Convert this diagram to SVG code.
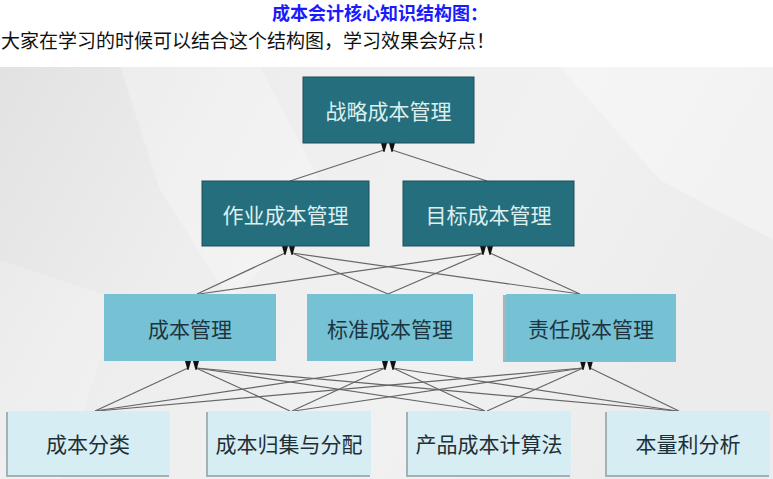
<svg xmlns="http://www.w3.org/2000/svg" width="773" height="479" viewBox="0 0 773 479">
  <defs>
    <linearGradient id="paper" x1="0" y1="0" x2="1" y2="0.3">
      <stop offset="0" stop-color="#e2e2e2"/>
      <stop offset="0.35" stop-color="#eeeeee"/>
      <stop offset="0.7" stop-color="#f1f1f1"/>
      <stop offset="1" stop-color="#ececec"/>
    </linearGradient>
    <polygon id="tri" points="-3,0 3,0 0.5,9 -0.5,9"/>
    <style>
      .hdr { font-family: "Noto Sans CJK SC", "Liberation Sans", sans-serif; }
      .title { font-size: 18px; font-weight: bold; fill: #1a1aff; }
      .sub { font-size: 19px; fill: #111111; }
      .lbl { font-family: "Noto Sans CJK SC", "Liberation Sans", sans-serif; font-size: 21px; text-anchor: middle; dominant-baseline: central; }
      .dark rect { fill: #256e7e; stroke: #1b4e59; stroke-width: 1; }
      .dark text { fill: #dcefef; }
      .mid rect { fill: #77c1d4; }
      .mid text { fill: #1c3540; }
      .light rect.face { fill: #d6edf3; }
      .light rect.shadow { fill: #a4b0b3; }
      .light text { fill: #1e2f36; }
      #connectors line { stroke: #666666; stroke-width: 1.2; }
      #connectors use { fill: #111111; }
    </style>
  </defs>

  <!-- header text -->
  <text class="hdr title" x="272" y="20">成本会计核心知识结构图：</text>
  <text class="hdr sub" x="1" y="48">大家在学习的时候可以结合这个结构图，学习效果会好点！</text>

  <!-- paper background -->
  <rect x="0" y="67" width="773" height="412" fill="url(#paper)"/>
  <polygon points="120,67 260,67 330,200 230,300 160,190" fill="#ffffff" opacity="0.25"/>
  <polygon points="560,67 773,67 773,240 660,180" fill="#ffffff" opacity="0.3"/>
  <polygon points="0,260 120,300 60,479 0,479" fill="#ffffff" opacity="0.2"/>

  <!-- connectors -->
  <g id="connectors">
    <!-- level 1 -> top -->
    <line x1="290" y1="181" x2="384" y2="150"/>
    <line x1="487" y1="181" x2="392" y2="150"/>
    <!-- level 2 -> level 1 -->
    <line x1="197" y1="294" x2="285" y2="253"/>
    <line x1="199" y1="294" x2="483" y2="253"/>
    <line x1="388" y1="294" x2="292" y2="253"/>
    <line x1="388" y1="294" x2="483" y2="253"/>
    <line x1="580" y1="294" x2="292" y2="253"/>
    <line x1="580" y1="294" x2="490" y2="253"/>
    <!-- level 3 -> level 2 -->
    <line x1="95" y1="411" x2="188" y2="368"/>
    <line x1="95" y1="411" x2="385" y2="368"/>
    <line x1="97" y1="411" x2="583" y2="368"/>
    <line x1="290" y1="411" x2="196" y2="368"/>
    <line x1="292" y1="411" x2="385" y2="368"/>
    <line x1="294" y1="411" x2="583" y2="368"/>
    <line x1="485" y1="411" x2="196" y2="368"/>
    <line x1="485" y1="411" x2="393" y2="368"/>
    <line x1="487" y1="411" x2="583" y2="368"/>
    <line x1="677" y1="411" x2="196" y2="368"/>
    <line x1="677" y1="411" x2="393" y2="368"/>
    <line x1="679" y1="411" x2="590" y2="368"/>
    <!-- arrowheads -->
    <use href="#tri" x="384" y="143"/>
    <use href="#tri" x="392" y="143"/>
    <use href="#tri" x="285" y="246"/>
    <use href="#tri" x="292" y="246"/>
    <use href="#tri" x="483" y="246"/>
    <use href="#tri" x="490" y="246"/>
    <use href="#tri" x="188" y="361"/>
    <use href="#tri" x="196" y="361"/>
    <use href="#tri" x="385" y="361"/>
    <use href="#tri" x="393" y="361"/>
    <use href="#tri" x="583" y="361"/>
    <use href="#tri" x="590" y="361"/>
  </g>

  <!-- top level -->
  <g id="n-strategic" class="dark">
    <rect x="303" y="77" width="171" height="66"/>
    <text class="lbl" x="388.5" y="110">战略成本管理</text>
  </g>

  <!-- level 1 -->
  <g id="n-activity" class="dark">
    <rect x="202" y="181" width="167" height="65"/>
    <text class="lbl" x="285.5" y="213.5">作业成本管理</text>
  </g>
  <g id="n-target" class="dark">
    <rect x="403" y="181" width="171" height="65"/>
    <text class="lbl" x="488.5" y="213.5">目标成本管理</text>
  </g>

  <!-- level 2 -->
  <g id="n-costmgmt" class="mid">
    <rect x="104" y="294" width="172" height="67"/>
    <text class="lbl" x="190" y="327.5">成本管理</text>
  </g>
  <g id="n-standard" class="mid">
    <rect x="307" y="294" width="166" height="67"/>
    <text class="lbl" x="390" y="327.5">标准成本管理</text>
  </g>
  <g id="n-responsibility" class="mid">
    <rect x="503" y="295" width="173" height="67" fill="#a9b4b6" style="fill:#a9b4b6"/>
    <rect x="506" y="294" width="170" height="67"/>
    <text class="lbl" x="591" y="327.5">责任成本管理</text>
  </g>

  <!-- level 3 -->
  <g id="n-classify" class="light">
    <rect class="shadow" x="6" y="412" width="163" height="65"/>
    <rect class="face" x="8" y="411" width="162" height="64"/>
    <text class="lbl" x="88" y="443">成本分类</text>
  </g>
  <g id="n-allocation" class="light">
    <rect class="shadow" x="206" y="412" width="164" height="65"/>
    <rect class="face" x="208" y="411" width="163" height="64"/>
    <text class="lbl" x="289" y="443">成本归集与分配</text>
  </g>
  <g id="n-costing" class="light">
    <rect class="shadow" x="406" y="412" width="164" height="65"/>
    <rect class="face" x="408" y="411" width="163" height="64"/>
    <text class="lbl" x="489" y="443">产品成本计算法</text>
  </g>
  <g id="n-cvp" class="light">
    <rect class="shadow" x="605" y="412" width="164" height="65"/>
    <rect class="face" x="607" y="411" width="163" height="64"/>
    <text class="lbl" x="688" y="443">本量利分析</text>
  </g>
</svg>
